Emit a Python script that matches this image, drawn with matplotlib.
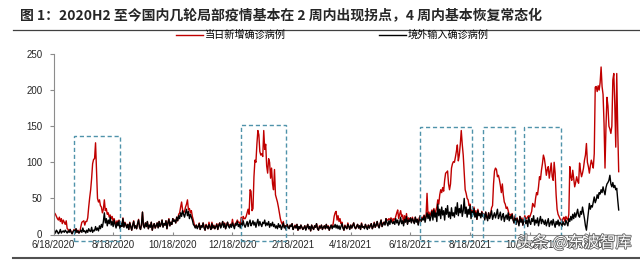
### Plotting libraries
import numpy as np
import pandas as pd
import matplotlib
matplotlib.use('Agg')
import matplotlib.pyplot as plt
import matplotlib.dates as mdates
import matplotlib.patheffects as pe
from matplotlib.lines import Line2D
from matplotlib.patches import Rectangle

plt.rcParams['font.family'] = ['Liberation Sans', 'Noto Sans CJK SC', 'DejaVu Sans']

### Daily imported cases (境外输入确诊病例), 2020-06-18 onwards
imported_2020 = [
    3, 5, 2, 6, 4, 1, 3, 7, 2, 4, 5, 3, 6,                                   # Jun
    4, 2, 5, 3, 7, 3, 1, 4, 6, 2, 8, 3, 5, 2, 4, 6, 3, 9, 4, 5, 2, 6, 3, 8, 5, 4, 10, 3, 6, 5, 11,  # Jul
    6, 9, 5, 12, 8, 14, 10, 18, 30, 16, 22, 12, 20, 15, 24, 13, 18, 11, 20, 14, 9, 17, 12, 19, 8, 15, 11, 22, 10, 16, 13,  # Aug
    9, 14, 7, 16, 11, 6, 13, 18, 9, 12, 8, 15, 20, 10, 7, 14, 31, 12, 9, 16, 11, 18, 8, 13, 10, 17, 6, 12, 15, 9,  # Sep
    12, 16, 9, 18, 11, 14, 20, 10, 15, 13, 19, 8, 16, 21, 12, 17, 14, 22, 18, 20, 16, 24, 19, 26, 22, 30, 25, 33, 28, 24, 30,  # Oct
    35, 26, 32, 22, 28, 24, 20, 14, 12, 9, 13, 8, 11, 15, 7, 12, 10, 16, 9, 6, 13, 11, 8, 14, 10, 7, 15, 9, 12, 8,  # Nov
    11, 14, 7, 12, 16, 9, 13, 18, 10, 15, 8, 12, 17, 11, 9, 14, 10, 16, 12, 8, 15, 13, 18, 11, 14, 9, 16, 12, 19, 13, 10,  # Dec
]
imported_2021h1 = [
    14, 18, 11, 16, 20, 12, 15, 19, 13, 17, 10, 16, 21, 12, 18, 14, 11, 17, 15, 20, 12, 16, 13, 18, 10, 15, 12, 17, 11, 14, 9,  # Jan
    12, 8, 15, 10, 13, 7, 11, 16, 9, 12, 6, 14, 10, 8, 13, 11, 15, 7, 10, 12, 9, 14, 6, 11, 8, 13, 10, 7,  # Feb
    9, 12, 6, 10, 14, 8, 11, 5, 13, 9, 7, 12, 10, 15, 8, 6, 11, 9, 13, 7, 10, 12, 8, 14, 9, 11, 6, 10, 13, 8, 12,  # Mar
    10, 14, 9, 13, 8, 12, 7, 11, 15, 9, 6, 12, 10, 8, 14, 11, 7, 13, 9, 12, 16, 10, 8, 11, 14, 9, 12, 7, 15, 10,  # Apr
    11, 8, 14, 10, 7, 13, 9, 12, 15, 8, 11, 16, 10, 13, 18, 12, 9, 15, 20, 11, 14, 17, 13, 22, 16, 12, 19, 14, 21, 17, 15,  # May
    18, 14, 22, 16, 20, 13, 17, 24, 15, 19, 12, 21, 17, 25, 14, 20, 18, 23, 16, 22, 19, 15, 24, 17, 21, 13, 20, 26, 18, 22,  # Jun
]
imported_2021h2 = [
    20, 26, 17, 24, 30, 22, 28, 19, 25, 32, 20, 34, 24, 30, 18, 42, 26, 35, 22, 38, 27, 33, 20, 36, 28, 40, 24, 31, 22, 37, 26,  # Jul
    30, 24, 38, 28, 44, 26, 36, 30, 41, 25, 33, 50, 29, 38, 24, 35, 28, 40, 22, 32, 27, 36, 24, 30, 21, 33, 26, 29, 23, 31, 25,  # Aug
    28, 20, 31, 24, 19, 30, 22, 27, 33, 21, 26, 30, 23, 28, 35, 22, 26, 31, 20, 25, 29, 18, 24, 27, 21, 30, 19, 25, 22, 28,  # Sep
    20, 16, 24, 14, 22, 18, 12, 25, 17, 21, 13, 19, 23, 15, 20, 11, 24, 17, 14, 22, 18, 26, 13, 20, 16, 23, 12, 19, 25, 15, 21,  # Oct
    18, 14, 20, 12, 17, 22, 11, 16, 19, 13, 21, 15, 10, 18, 14, 20, 12, 17, 15, 11, 18, 14, 13, 20, 16, 12, 22, 18, 25, 20,  # Nov
    28, 22, 30, 24, 29, 35, 26, 24, 32, 28, 38, 30, 22, 12, 6, 18, 30, 43, 35, 40, 38, 45, 52, 44, 48, 55, 50, 58, 56, 62, 58,  # Dec
    66, 60, 55, 65, 70, 72, 75, 82, 70, 66, 72, 65, 68, 62, 64, 48, 34,  # Jan 2022
]

### Daily local cases, so that 当日新增 = local + imported
local_2020 = [
    31, 25, 26, 19, 18, 19, 21, 11, 20, 11, 15, 14, 8,
    15, 6, 2, 1, 0, 1, 0, 0, 1, 0, 0, 0, 1, 0, 0, 5, 14, 9, 15, 8, 16, 12, 20, 30, 46, 58, 68, 95, 98, 100, 116,
    84, 41, 40, 36, 32, 24, 20, 17, 18, 17, 14, 16, 10, 9, 3, 9, 7, 7, 2, 3, 5, 2, 2, 1, 2, 1, 1, 1, 1, 1, 1,
    1, 0, 0, 1, 0, 0, 0, 1, 0, 0, 0, 0, 1, 0, 0, 0, 0, 0, 1, 0, 0, 0, 0, 0, 1, 0, 0, 0, 0, 0,
    0, 0, 1, 0, 0, 0, 0, 1, 0, 0, 0, 0, 0, 1, 0, 0, 0, 0, 1, 0, 0, 0, 0, 2, 8, 8, 20, 1, 2, 8, 8,
    7, 22, 2, 14, 2, 9, 5, 6, 2, 1, 0, 2, 0, 1, 0, 0, 1, 0, 2, 0, 1, 0, 0, 3, 1, 0, 2, 0, 1, 0,
    0, 1, 0, 2, 0, 1, 0, 0, 3, 1, 0, 2, 0, 1, 4, 0, 2, 5, 1, 3, 0, 4, 2, 6, 3, 5, 8, 4, 6, 9, 12,
]
local_2021h1 = [
    11, 12, 24, 12, 42, 48, 18, 17, 67, 86, 90, 109, 123, 126, 97, 96, 101, 91, 129, 98, 113, 79, 72, 87, 90, 63, 80, 53, 51, 76, 46,
    38, 37, 23, 20, 9, 10, 3, 2, 1, 0, 1, 0, 0, 1, 0, 0, 0, 0, 0, 1, 0, 0, 0, 0, 0, 0, 0, 0,
    0, 0, 1, 0, 0, 0, 0, 0, 0, 1, 0, 0, 0, 0, 0, 0, 1, 0, 0, 0, 0, 0, 0, 0, 0, 1, 0, 0, 0, 2, 3,
    15, 16, 23, 7, 18, 6, 15, 4, 2, 1, 0, 1, 0, 0, 2, 0, 1, 0, 0, 1, 0, 0, 0, 1, 0, 0, 0, 0, 1, 0,
    0, 1, 0, 0, 2, 0, 0, 1, 0, 0, 0, 1, 0, 0, 0, 0, 1, 0, 0, 0, 2, 0, 1, 0, 4, 8, 3, 6, 2, 5, 3,
    4, 6, 3, 14, 14, 9, 11, 9, 10, 8, 3, 5, 2, 4, 1, 3, 2, 0, 1, 2, 0, 1, 0, 2, 0, 1, 3, 0, 1, 2,
]
local_2021h2 = [
    2, 1, 3, 2, 27, 4, 3, 7, 5, 2, 8, 2, 3, 3, 20, 6, 16, 20, 40, 20, 38, 27, 55, 49, 58, 48, 46, 31, 48, 55, 72,
    71, 76, 69, 87, 80, 76, 74, 95, 103, 100, 77, 35, 33, 19, 26, 13, 12, 2, 8, 2, 3, 2, 1, 3, 0, 2, 1, 0, 2, 1, 3,
    1, 2, 0, 1, 3, 0, 2, 1, 4, 19, 44, 58, 69, 62, 45, 60, 50, 37, 38, 45, 26, 27, 18, 9, 17, 3, 8, 3, 2, 1,
    1, 0, 2, 0, 1, 0, 3, 0, 1, 2, 0, 1, 3, 7, 2, 14, 2, 7, 14, 10, 25, 14, 25, 30, 42, 32, 54, 61, 51, 74, 77,
    92, 91, 75, 70, 73, 72, 67, 72, 80, 67, 54, 85, 75, 37, 21, 8, 13, 5, 5, 7, 4, 10, 5, 5, 6, 8, 6, 76, 55, 55,
    61, 56, 36, 48, 51, 39, 45, 75, 56, 52, 47, 62, 81, 98, 120, 82, 64, 42, 60, 63, 60, 47, 60, 160, 157, 143, 156, 142, 154, 170, 147,
    128, 94, 37, 85, 120, 106, 75, 64, 70, 84, 142, 158, 112, 59, 159, 98, 53,
]

tick_labels = ['6/18/2020', '8/18/2020', '10/18/2020', '12/18/2020', '2/18/2021',
               '4/18/2021', '6/18/2021', '8/18/2021', '10/18/2021', '12/18/2021']

### outbreak windows marked with dashed boxes: (start, end, top)
outbreak_windows = [('2020-07-09', '2020-08-25', 137),
                    ('2020-12-27', '2021-02-11', 151),
                    ('2021-06-28', '2021-08-20', 149),
                    ('2021-08-31', '2021-10-03', 149),
                    ('2021-10-12', '2021-11-19', 149)]

imported = np.array(imported_2020 + imported_2021h1 + imported_2021h2)
local = np.array(local_2020 + local_2021h1 + local_2021h2)
assert len(imported) == len(local)
total = imported + local
dates = pd.date_range('2020-06-18', periods=len(imported), freq='D')

W, H = 640, 260
fig = plt.figure(figsize=(W / 100, H / 100), dpi=100)
ax = fig.add_axes([53.5 / W, 1 - 234.5 / H, (620 - 53.5) / W, (234.5 - 54) / H])

ax.plot(dates, total, color='#c00000', lw=1.0, label='当日新增确诊病例')
ax.plot(dates, imported, color='black', lw=1.0, label='境外输入确诊病例')

for x0, x1, top in outbreak_windows:
    a, b = mdates.date2num(pd.Timestamp(x0)), mdates.date2num(pd.Timestamp(x1))
    ax.add_patch(Rectangle((a, -9), b - a, top + 9, fill=False, ec='#4f93aa',
                           lw=1.0, ls=(0, (3, 2)), clip_on=False, zorder=3))

ax.set_ylim(0, 250)
ax.set_yticks(range(0, 251, 50))
ax.set_xlim(pd.Timestamp('2020-06-18'), pd.Timestamp('2022-01-18 08:00'))
ax.set_xticks(pd.to_datetime(tick_labels, format='%m/%d/%Y'))
ax.set_xticklabels(tick_labels)

for side in ['top', 'right']:
    ax.spines[side].set_visible(False)
for side in ['left', 'bottom']:
    ax.spines[side].set_color('#8c8c8c')
    ax.spines[side].set_linewidth(0.8)
ax.tick_params(axis='y', length=3, pad=5, color='#8c8c8c', labelsize=7, labelcolor='#262626')
ax.tick_params(axis='x', direction='in', length=2.5, pad=4, color='#8c8c8c', labelsize=7, labelcolor='#262626')

fig.legend(loc='center left', bbox_to_anchor=(176 / W, 1 - 35 / H), ncol=2, frameon=False,
           fontsize=7.3, handlelength=2.65, handletextpad=0.2, columnspacing=9.2,
           borderpad=0, borderaxespad=0)

fig.text(20 / W, 1 - 16 / H, '图 1：2020H2 至今国内几轮局部疫情基本在 2 周内出现拐点，4 周内基本恢复常态化',
         fontsize=10, fontweight='bold', family=['Noto Sans CJK SC'], va='center', color='#262626')
fig.add_artist(Line2D([13 / W, 1], [1 - 30 / H] * 2, color='#404040', lw=0.9, transform=fig.transFigure))
fig.add_artist(Line2D([13 / W, 1], [1 - 257.5 / H] * 2, color='#505050', lw=1.5, transform=fig.transFigure))

fig.text(517 / W, 1 - 243 / H, '头条 @东波智库', fontsize=11.5, color='white',
         family=['Noto Sans CJK SC', 'DejaVu Sans'], va='center', zorder=10,
         path_effects=[pe.withStroke(linewidth=1.2, foreground='#606060')])

fig.savefig('out.png', dpi=100)
